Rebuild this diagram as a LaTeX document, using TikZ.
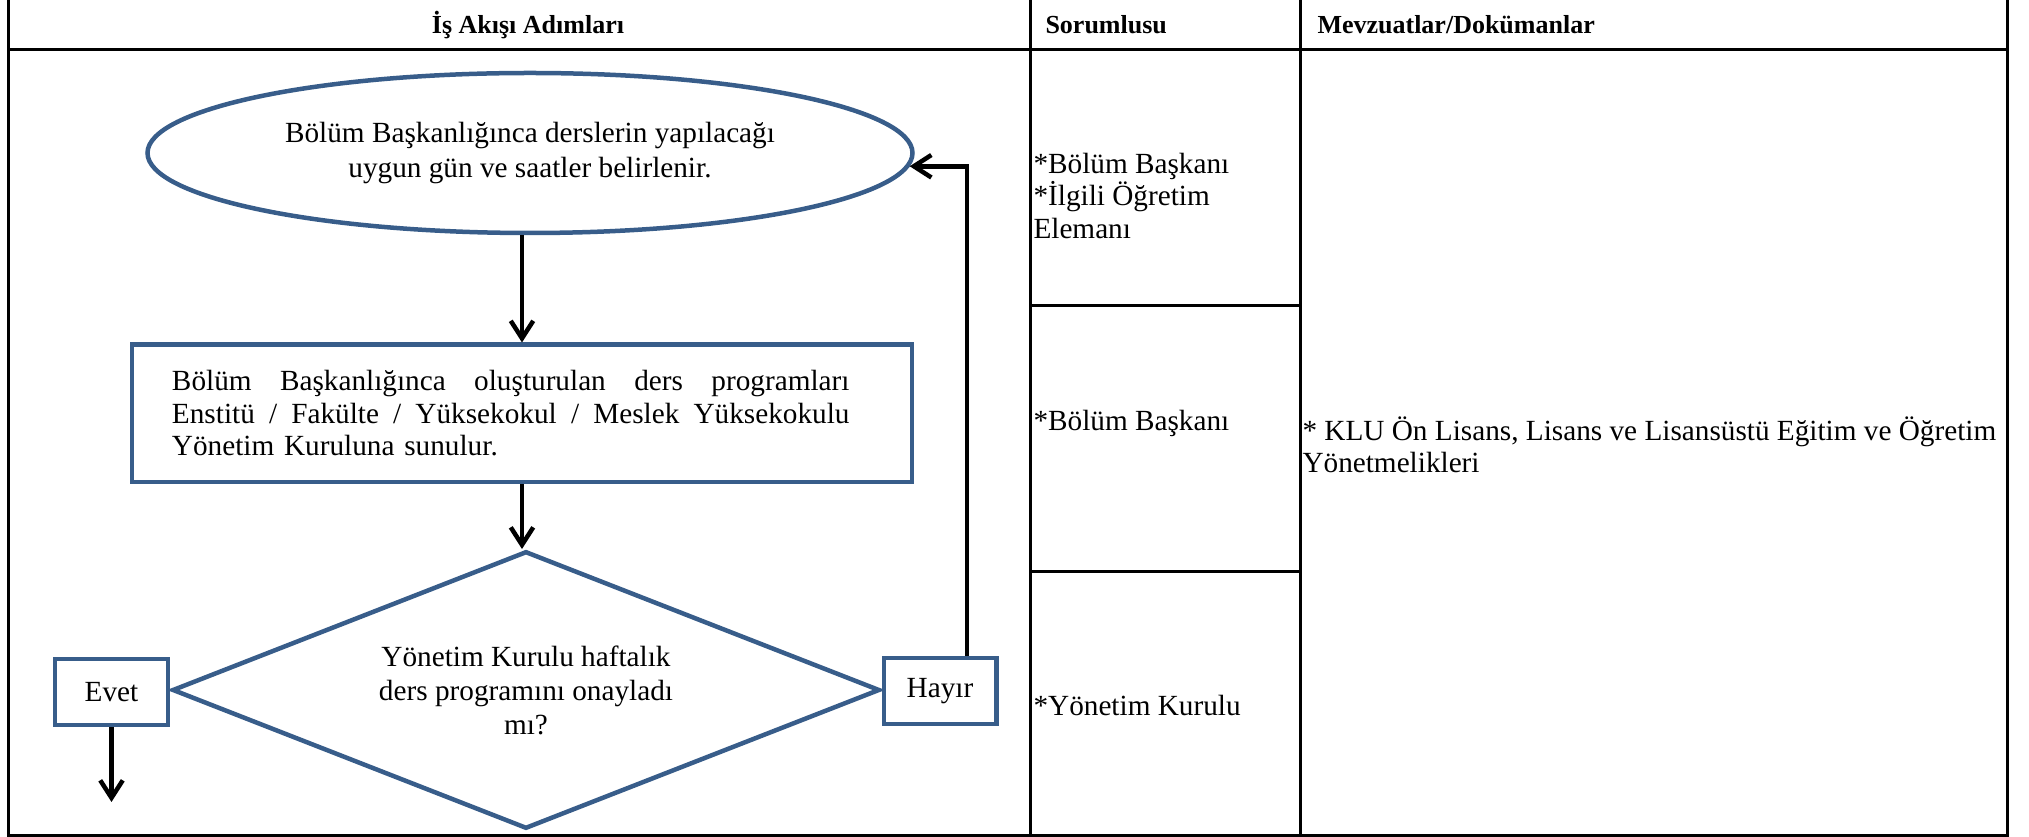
\documentclass[tikz,border=0pt]{standalone}
\usepackage{fontspec}
\setmainfont{Liberation Serif}
\usetikzlibrary{shapes.geometric,arrows.meta}
\definecolor{flowblue}{HTML}{385D8A}

\begin{document}
\begin{tikzpicture}[x=0.4pt, y=-0.4pt]

	% Styles
	\tikzset{
		startbox/.style={
			ellipse, draw=flowblue, line width=1.8pt,
			minimum width=306pt, minimum height=64pt, inner sep=0pt,
			align=center, font=\fontsize{11.7}{14.3}\selectfont
		},
		process/.style={
			rectangle, draw=flowblue, line width=1.8pt,
			minimum width=312pt, minimum height=55pt, inner sep=0pt,
			text width=280pt, align=left, font=\fontsize{11.7}{13}\selectfont
		},
		decision/.style={
			diamond, draw=flowblue, line width=1.8pt, aspect=2.55,
			minimum width=283pt, minimum height=111pt, inner sep=0pt,
			align=center, font=\fontsize{11.7}{13.6}\selectfont
		},
		answer/.style={
			rectangle, draw=flowblue, line width=1.8pt,
			minimum width=45pt, minimum height=26.5pt, inner sep=0pt,
			font=\fontsize{11.7}{13}\selectfont
		},
		arrow/.style={
			line width=1.8pt, ->, >={Straight Barb[length=7pt,width=9pt]}
		},
		tableline/.style={line width=1.2pt},
		header/.style={inner sep=0pt, font=\fontsize{10.4}{12}\bfseries},
		cell/.style={inner sep=0pt, anchor=west, align=left, font=\fontsize{11.7}{13}\selectfont}
	}

	\useasboundingbox (0,0) rectangle (2029,837);

	% Table
	\draw[tableline] (8,0) -- (8,836) -- (2007,836) -- (2007,0);
	\draw[tableline] (8,50) -- (2007,50);
	\draw[tableline] (1030,0) -- (1030,836);
	\draw[tableline] (1300,0) -- (1300,836);
	\draw[tableline] (1030,306) -- (1300,306);
	\draw[tableline] (1030,572) -- (1300,572);

	% Header
	\node[header] (steps) at (528,25) {İş Akışı Adımları};
	\node[header, anchor=west] (owner) at (1045,25) {Sorumlusu};
	\node[header, anchor=west] (docs) at (1317,25) {Mevzuatlar/Dokümanlar};

	% Cells
	\node[cell] (owner1) at (1033,196) {*Bölüm Başkanı\\*İlgili Öğretim\\Elemanı};
	\node[cell] (owner2) at (1033,423) {*Bölüm Başkanı};
	\node[cell] (owner3) at (1033,705) {*Yönetim Kurulu};
	\node[cell] (rules) at (1302,445) {* KLU Ön Lisans, Lisans ve Lisansüstü Eğitim ve Öğretim\\Yönetmelikleri};

	% Nodes
	\node[startbox] (plan) at (530,153) {Bölüm Başkanlığınca derslerin yapılacağı\\uygun gün ve saatler belirlenir.};
	\node[process] (submit) at (522,413.5) {\makebox[271pt][l]{Bölüm\hfill Başkanlığınca\hfill oluşturulan\hfill ders\hfill programları}\\\makebox[271pt][l]{Enstitü\hfill /\hfill Fakülte\hfill /\hfill Yüksekokul\hfill /\hfill Meslek\hfill Yüksekokulu}\\Yönetim Kuruluna sunulur.};
	\node[decision] (approve) at (526,690) {Yönetim Kurulu haftalık\\ders programını onayladı\\mı?};
	\node[answer] (yes) at (111.5,692) {Evet};
	\node[answer] (no) at (940,691) {Hayır};
	\coordinate (yesout) at (111.5,802);

	% Arrows
	\draw[arrow] (plan.south -| submit.north) -- (submit.north);
	\draw[arrow] (submit.south) -- (submit.south |- approve.north);
	\draw[arrow] (yes.south) -- (yesout);
	\draw[arrow] ([xshift=10.8pt]no.north) |- (plan.-2.5);

\end{tikzpicture}
\end{document}
